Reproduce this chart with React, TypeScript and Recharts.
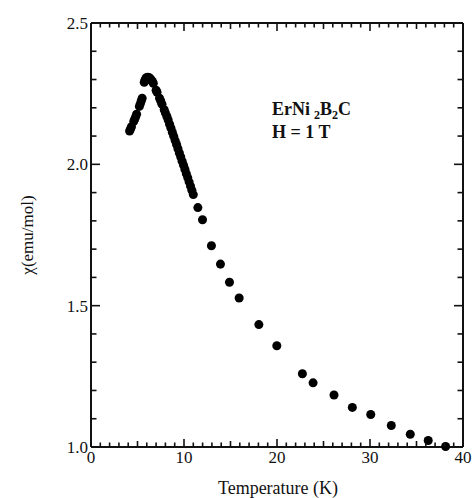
import { Customized, ReferenceLine, Scatter, ScatterChart, XAxis, YAxis, ZAxis } from 'recharts';

// low-T side and the peak (dense, looks dashed)
const lowTemps = [4.15, 4.25, 4.35, 4.6, 4.7, 4.8, 4.9, 5.2, 5.3, 5.4, 5.5, 5.72, 5.8, 5.9, 6.0, 6.1, 6.2, 6.3, 6.4, 6.5, 6.6, 6.7, 7.0, 7.1, 7.37, 7.5, 7.63, 7.87, 8.0, 8.16];
const lowChi = [2.118, 2.125, 2.133, 2.152, 2.16, 2.168, 2.177, 2.205, 2.214, 2.224, 2.234, 2.29, 2.298, 2.304, 2.307, 2.308, 2.307, 2.305, 2.302, 2.298, 2.293, 2.287, 2.262, 2.255, 2.234, 2.224, 2.213, 2.193, 2.182, 2.169];

// the nearly straight run from 8 K to 11 K
const denseTemps = [8.3, 8.45, 8.6, 8.75, 8.9, 9.05, 9.2, 9.35, 9.5, 9.65, 9.8, 9.95, 10.1, 10.25, 10.4, 10.55, 10.7, 10.85, 11.0];
const denseChi = [2.157, 2.142, 2.128, 2.113, 2.099, 2.084, 2.07, 2.055, 2.04, 2.026, 2.011, 1.997, 1.982, 1.967, 1.953, 1.938, 1.923, 1.908, 1.893];

// single points above 11 K
const sparseTemps = [11.49, 11.99, 12.95, 13.92, 14.89, 15.93, 18.05, 19.98, 22.73, 23.88, 26.13, 28.1, 30.08, 32.29, 34.33, 36.26, 38.13];
const sparseChi = [1.847, 1.804, 1.712, 1.647, 1.583, 1.527, 1.433, 1.358, 1.259, 1.227, 1.184, 1.14, 1.115, 1.076, 1.045, 1.023, 1.002];

const xTicks = Array.from({ length: 41 }, (_, i) => i);
const yTicks = [1.0, 1.1, 1.2, 1.3, 1.4, 1.5, 1.6, 1.7, 1.8, 1.9, 2.0, 2.1, 2.2, 2.3, 2.4, 2.5];

const data = [
  ...lowTemps.map((t, i) => ({ t, chi: lowChi[i] })),
  ...denseTemps.map((t, i) => ({ t, chi: denseChi[i] })),
  ...sparseTemps.map((t, i) => ({ t, chi: sparseChi[i] })),
];

const FONT = 'Liberation Serif, DejaVu Serif, serif';
const INK = '#111';

// plot box is 372 x 424 px for 0..40 K and 1.0..2.5
const PX_T = 40 / 372;
const PX_CHI = 1.5 / 424;

const isMajorY = (v: number) => Math.abs(v * 2 - Math.round(v * 2)) < 1e-6;
const xPx = (v: number) => (v % 10 === 0 ? 8 : v % 5 === 0 ? 6 : 4.5);
const yPx = (v: number) => (isMajorY(v) ? 9 : 5.5);

const BottomTick = (props: any) => {
  const { x, y, payload } = props;
  const v = payload.value;
  return (
    <g>
      <path d={`M${x},${y}V${y - xPx(v)}`} stroke={INK} strokeWidth={1.6} />
      {v % 10 === 0 && (
        <text x={x} y={y + 16} textAnchor="middle" fontSize={17} fontFamily={FONT} fill={INK}>
          {v}
        </text>
      )}
    </g>
  );
};

const LeftTick = (props: any) => {
  const { x, y, payload } = props;
  const v = payload.value;
  return (
    <g>
      <path d={`M${x},${y}H${x + yPx(v)}`} stroke={INK} strokeWidth={1.6} />
      {isMajorY(v) && (
        <text x={x - 3} y={y + 6} textAnchor="end" fontSize={17} fontFamily={FONT} fill={INK}>
          {v.toFixed(1)}
        </text>
      )}
    </g>
  );
};

const Annotation = () => (
  <g fontFamily={FONT} fill={INK}>
    <text x={27} y={235} transform="rotate(-90 27 235)" textAnchor="middle" dominantBaseline="central" fontSize={17}>
      χ(emu/mol)
    </text>
    <text x={278} y={494} textAnchor="middle" fontSize={18}>
      Temperature (K)
    </text>
    <g fontWeight="bold" fontSize={18}>
      <text x={272} y={115}>
        ErNi
        <tspan dx={4} dy={4} fontSize={12}>2</tspan>
        <tspan dy={-4}>B</tspan>
        <tspan dy={4} fontSize={12}>2</tspan>
        <tspan dy={-4}>C</tspan>
      </text>
      <text x={272} y={138}>H = 1 T</text>
    </g>
  </g>
);

export default function App() {
  return (
    <div style={{ position: 'absolute', left: 0, top: 0 }}>
      <ScatterChart width={473} height={498} margin={{ top: 23, right: 10, bottom: 0, left: 0 }}>
        <XAxis
          dataKey="t"
          type="number"
          domain={[0, 40]}
          ticks={xTicks}
          interval={0}
          height={51}
          tickSize={0}
          tickMargin={0}
          tickLine={false}
          tick={BottomTick}
          axisLine={{ stroke: INK, strokeWidth: 2 }}
        />
        <YAxis
          dataKey="chi"
          type="number"
          domain={[1, 2.5]}
          ticks={yTicks}
          interval={0}
          width={91}
          tickSize={0}
          tickMargin={0}
          tickLine={false}
          tick={LeftTick}
          axisLine={{ stroke: INK, strokeWidth: 2 }}
        />
        <ZAxis range={[25, 25]} />
        <ReferenceLine y={2.5} stroke={INK} strokeWidth={2} ifOverflow="visible" />
        <ReferenceLine x={40} stroke={INK} strokeWidth={2} ifOverflow="visible" />
        {xTicks.map((v) => (
          <ReferenceLine key={`t${v}`} segment={[{ x: v, y: 2.5 }, { x: v, y: 2.5 - xPx(v) * PX_CHI }]} stroke={INK} strokeWidth={1.6} ifOverflow="visible" />
        ))}
        {yTicks.map((v) => (
          <ReferenceLine key={`r${v}`} segment={[{ x: 40, y: v }, { x: 40 - yPx(v) * PX_T, y: v }]} stroke={INK} strokeWidth={1.6} ifOverflow="visible" />
        ))}
        <Scatter data={data} fill="#000" isAnimationActive={false} />
        <Customized component={Annotation} />
      </ScatterChart>
    </div>
  );
}
